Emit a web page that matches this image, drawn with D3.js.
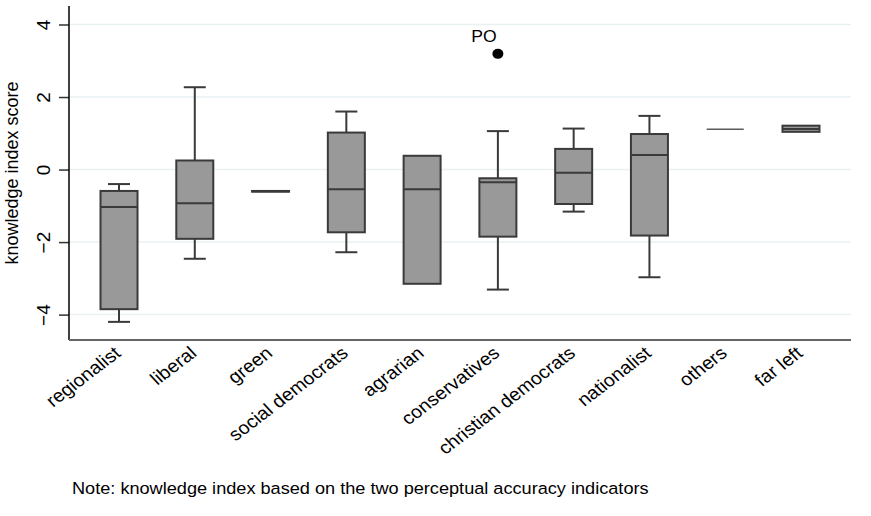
<!DOCTYPE html>
<html>
<head>
<meta charset="utf-8">
<script src="https://cdnjs.cloudflare.com/ajax/libs/d3/7.8.5/d3.min.js"></script>
<style>
body{margin:0;background:#fff;}
text{font-family:Arial,"Liberation Sans",sans-serif;fill:#000;}
</style>
</head>
<body>
<div id="chart"></div>
<script>
// party families and box stats
var categories = ["regionalist","liberal","green","social democrats","agrarian","conservatives","christian democrats","nationalist","others","far left"];
var whiskerLow  = [-4.20,-2.46,-0.60,-2.28,-3.15,-3.31,-1.16,-2.97,1.11,1.04];
var q1          = [-3.85,-1.91,-0.61,-1.73,-3.15,-1.85,-0.95,-1.82,1.11,1.04];
var median      = [-1.03,-0.93,-0.60,-0.54,-0.54,-0.35,-0.09,0.40,1.11,1.12];
var q3          = [-0.59,0.25,-0.59,1.02,0.38,-0.24,0.57,0.98,1.11,1.21];
var whiskerHigh = [-0.40,2.27,-0.60,1.60,0.38,1.06,1.13,1.48,1.11,1.21];
var outliers    = [{cat:"conservatives", value:3.19, label:"PO"}];
var yTicks = [-4,-2,0,2,4];
var note = "Note: knowledge index based on the two perceptual accuracy indicators";

var W = 871, H = 516;
var margin = {top: 6, right: 20, bottom: 176, left: 69},
	width = W - margin.left - margin.right,
	height = H - margin.top - margin.bottom;

var x = d3.scalePoint().domain(categories).range([0,width]).padding(0.66);
var y = d3.scaleLinear().domain([-4.7,4.51]).range([height,0]);

var svg = d3.select("#chart")
	.append("svg")
	.attr("width",W)
	.attr("height",H)
	.append("g")
	.attr("transform","translate(" + margin.left + "," + margin.top + ")");

// grid
svg.selectAll(".grid")
	.data(yTicks)
	.enter()
	.append("line")
	.attr("x1",0)
	.attr("x2",width)
	.attr("y1",function(d){return y(d);})
	.attr("y2",function(d){return y(d);})
	.attr("stroke","#eaf1f3")
	.attr("stroke-width",1.5);

var boxW = 37, capW = 22;
var data = categories.map(function(c,i){
	return {cat:c, lo:whiskerLow[i], q1:q1[i], med:median[i], q3:q3[i], hi:whiskerHigh[i]};
});

var g = svg.selectAll(".box")
	.data(data)
	.enter()
	.append("g")
	.attr("transform",function(d){return "translate(" + x(d.cat) + ",0)";});

// whiskers
g.append("line")
	.attr("x1",0).attr("x2",0)
	.attr("y1",function(d){return y(d.hi);})
	.attr("y2",function(d){return y(d.q3);})
	.attr("stroke","#3a3a3a").attr("stroke-width",2);
g.append("line")
	.attr("x1",0).attr("x2",0)
	.attr("y1",function(d){return y(d.q1);})
	.attr("y2",function(d){return y(d.lo);})
	.attr("stroke","#3a3a3a").attr("stroke-width",2);
g.filter(function(d){return d.hi > d.q3;})
	.append("line")
	.attr("x1",-capW/2).attr("x2",capW/2)
	.attr("y1",function(d){return y(d.hi);})
	.attr("y2",function(d){return y(d.hi);})
	.attr("stroke","#3a3a3a").attr("stroke-width",2);
g.filter(function(d){return d.lo < d.q1;})
	.append("line")
	.attr("x1",-capW/2).attr("x2",capW/2)
	.attr("y1",function(d){return y(d.lo);})
	.attr("y2",function(d){return y(d.lo);})
	.attr("stroke","#3a3a3a").attr("stroke-width",2);

// boxes
g.filter(function(d){return d.q3 > d.q1;})
	.append("rect")
	.attr("x",-boxW/2)
	.attr("width",boxW)
	.attr("y",function(d){return y(d.q3);})
	.attr("height",function(d){return y(d.q1) - y(d.q3);})
	.style("fill","#999999")
	.attr("stroke","#3a3a3a")
	.attr("stroke-width",2);

g.filter(function(d){return d.q3 > d.q1;})
	.append("line")
	.attr("x1",-boxW/2).attr("x2",boxW/2)
	.attr("y1",function(d){return y(d.med);})
	.attr("y2",function(d){return y(d.med);})
	.attr("stroke","#3a3a3a").attr("stroke-width",2);

// collapsed box (no spread) drawn as a thin line
g.filter(function(d){return d.q3 == d.q1;})
	.append("line")
	.attr("x1",-boxW/2).attr("x2",boxW/2)
	.attr("y1",function(d){return y(d.med);})
	.attr("y2",function(d){return y(d.med);})
	.attr("stroke","#5a5a5a").attr("stroke-width",1.6);

// outliers
svg.selectAll(".out")
	.data(outliers)
	.enter()
	.append("ellipse")
	.attr("cx",function(d){return x(d.cat);})
	.attr("cy",function(d){return y(d.value);})
	.attr("rx",5.5).attr("ry",5)
	.style("fill","#000");
svg.selectAll(".outlab")
	.data(outliers)
	.enter()
	.append("text")
	.attr("text-anchor","middle")
	.attr("transform",function(d){return "translate(" + (x(d.cat) - 14) + "," + (y(d.value) - 12) + ")scale(1.1,1)";})
	.style("font-size","16px")
	.text(function(d){return d.label;});

// axes
var yAxis = d3.axisLeft(y).tickValues(yTicks).tickSize(10).tickPadding(4);
var ya = svg.append("g").call(yAxis);
ya.select(".domain").remove();
ya.selectAll(".tick line").attr("stroke","#333").attr("stroke-width",1.5);
ya.selectAll("text")
	.style("font-size","19px")
	.attr("text-anchor","middle")
	.attr("x",0).attr("dy",0)
	.attr("transform","translate(-19,0)rotate(-90)");
svg.append("line")
	.attr("x1",0).attr("x2",0)
	.attr("y1",0).attr("y2",height)
	.attr("stroke","#000").attr("stroke-width",1.5);

svg.append("line")
	.attr("x1",0).attr("x2",width)
	.attr("y1",height).attr("y2",height)
	.attr("stroke","#666").attr("stroke-width",2.2);

svg.selectAll(".xlab")
	.data(categories)
	.enter()
	.append("text")
	.attr("text-anchor","end")
	.attr("transform",function(d){return "translate(" + (x(d) + 3) + "," + (height + 15) + ")scale(1.1,1)rotate(-40)";})
	.style("font-size","18px")
	.text(function(d){return d;});

svg.append("text")
	.attr("text-anchor","middle")
	.attr("transform","translate(" + (-51) + "," + (height/2) + ")rotate(-90)")
	.style("font-size","18px")
	.text("knowledge index score");

svg.append("text")
	.attr("transform","translate(" + (72 - margin.left) + "," + (H - margin.top - 22) + ")scale(1.1,1)")
	.style("font-size","16.5px")
	.text(note);
</script>
</body>
</html>
